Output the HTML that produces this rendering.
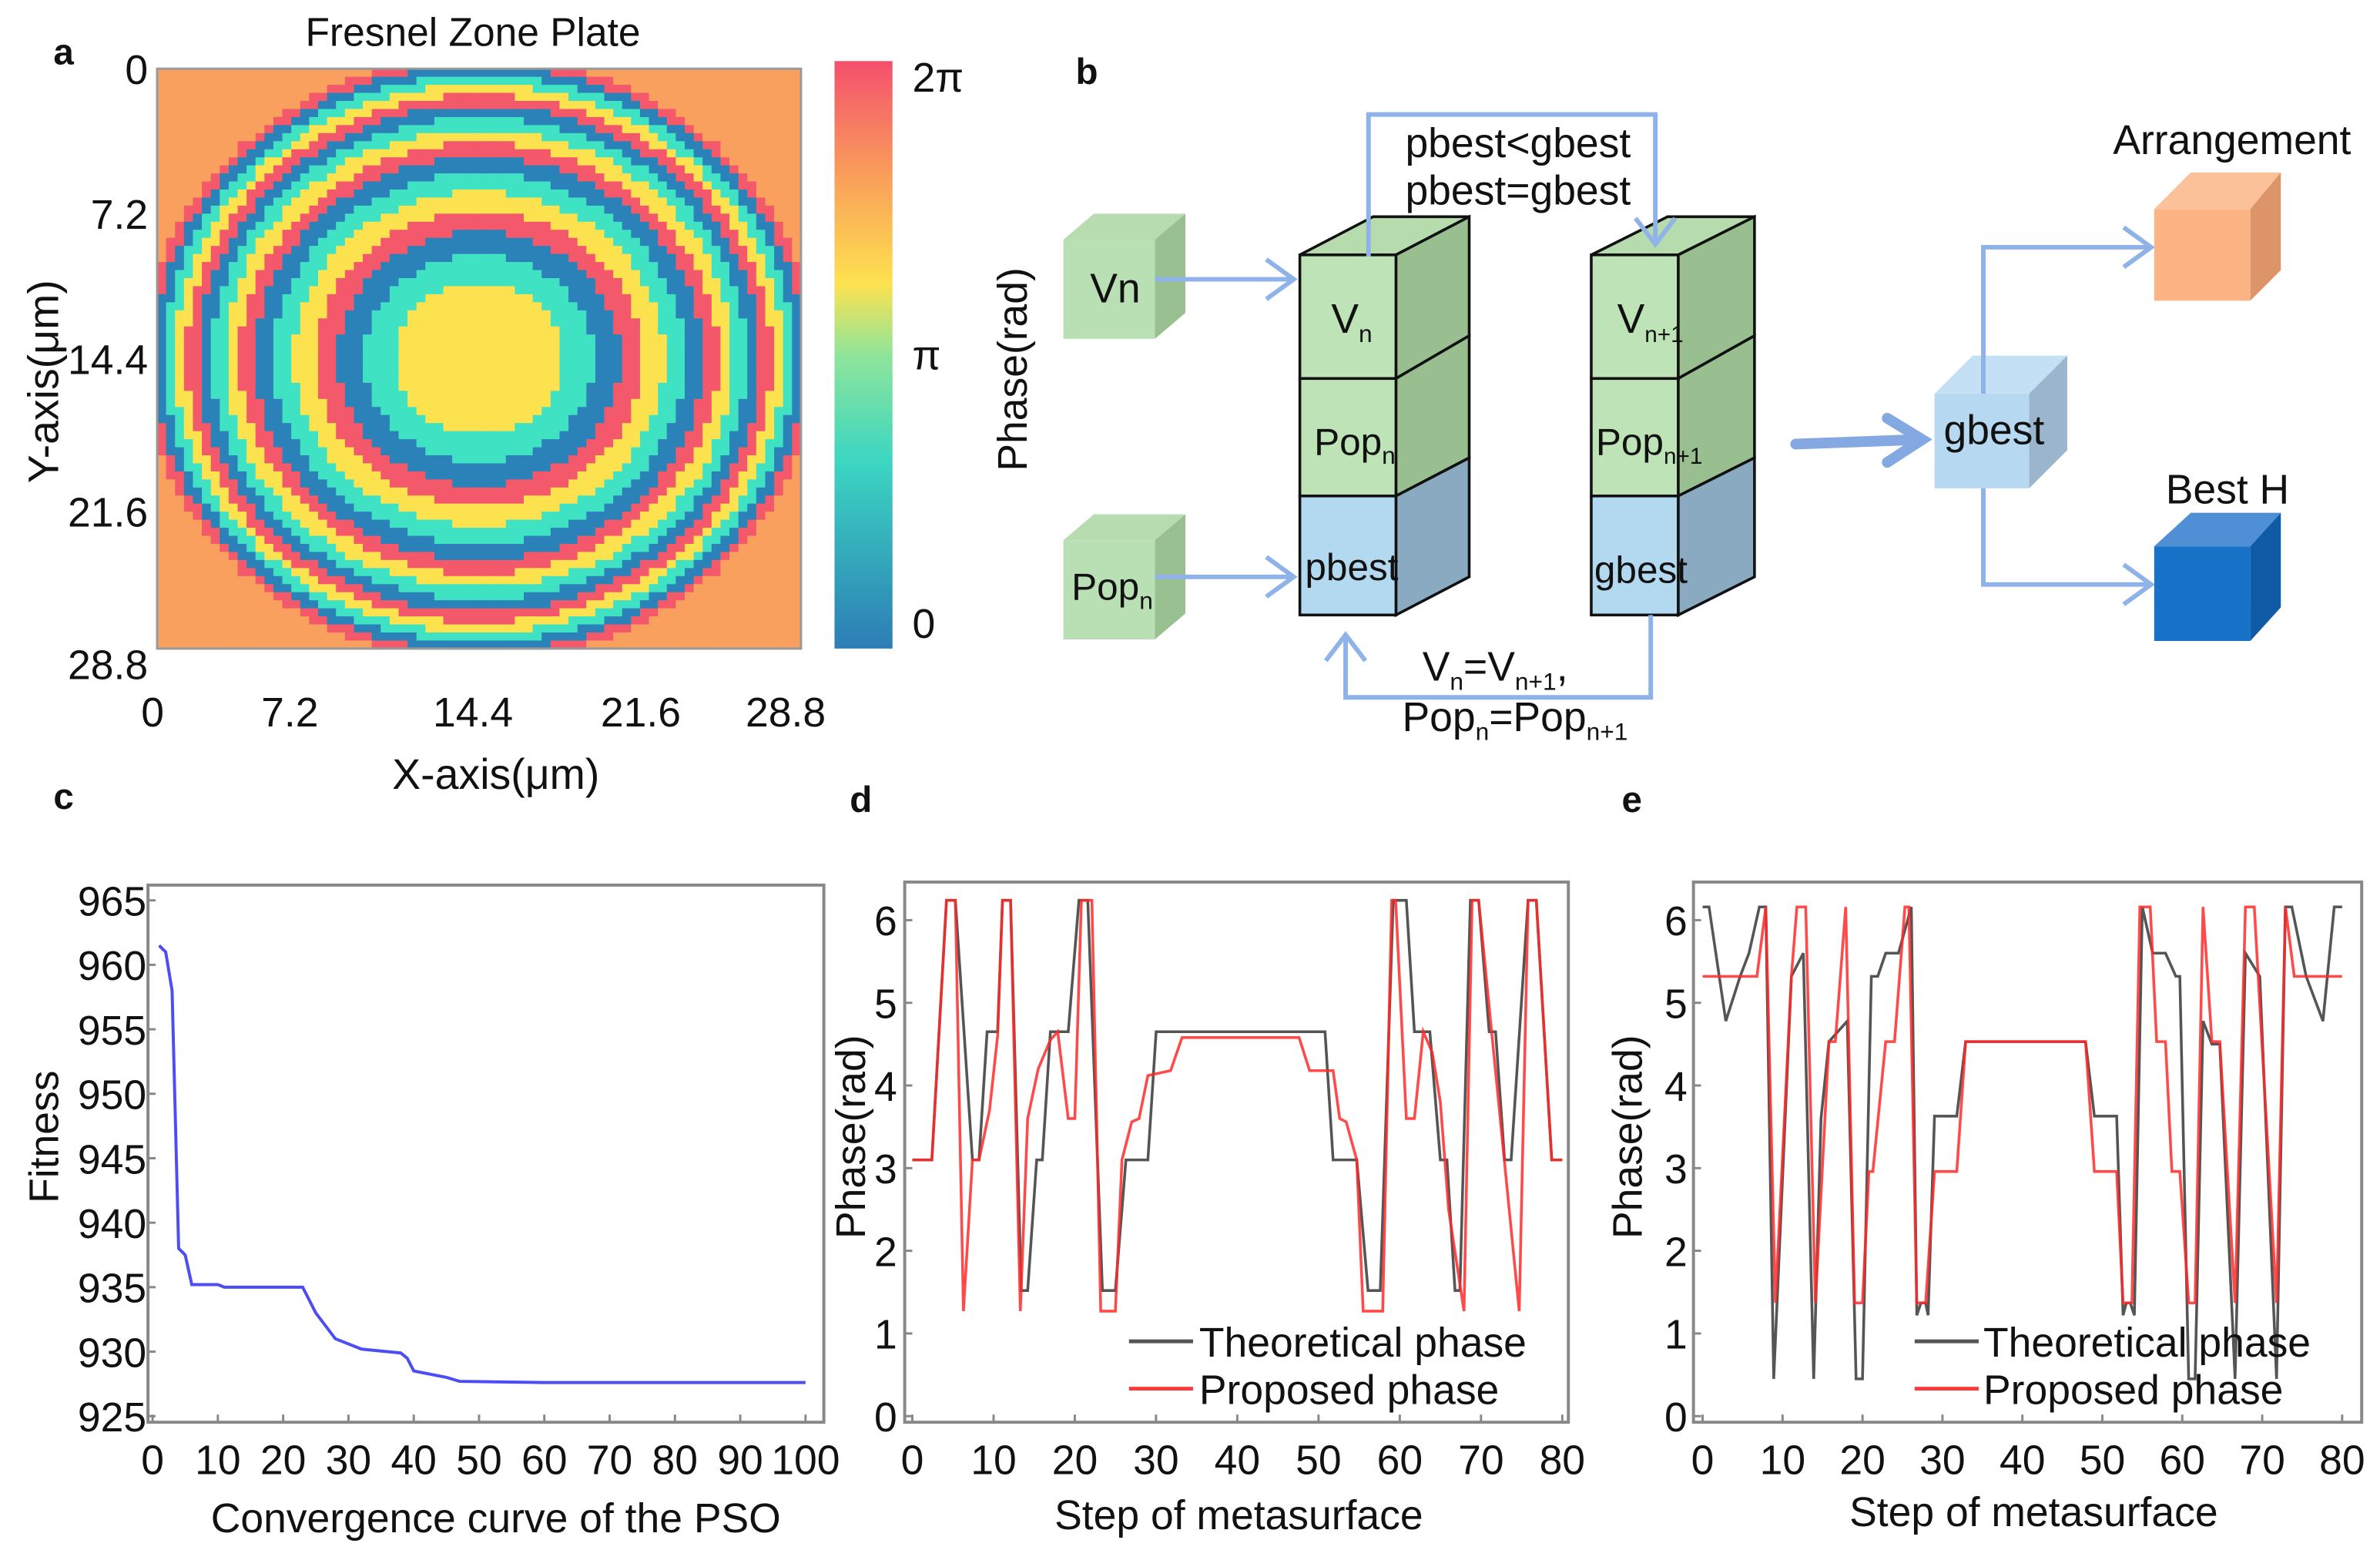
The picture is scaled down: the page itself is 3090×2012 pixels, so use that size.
<!DOCTYPE html>
<html><head><meta charset="utf-8">
<style>
html,body{margin:0;padding:0;background:#fff;}
svg{display:block;}
text{font-family:"Liberation Sans",sans-serif;fill:#111;}
</style></head>
<body>
<svg id="fig" xmlns="http://www.w3.org/2000/svg" width="3090" height="2012" viewBox="0 0 1560 1015.7">
<defs>
<linearGradient id="cbar" x1="0" y1="1" x2="0" y2="0">
<stop offset="0" stop-color="#2c7db5"/><stop offset="0.32" stop-color="#3cd6c2"/><stop offset="0.5" stop-color="#8fe59a"/><stop offset="0.62" stop-color="#fde24f"/><stop offset="0.8" stop-color="#f9a05a"/><stop offset="1" stop-color="#f4506d"/>
</linearGradient>
</defs>
<text x="35" y="42" font-size="24" font-weight="bold">a</text>
<text x="705" y="55" font-size="24" font-weight="bold">b</text>
<text x="35" y="530" font-size="24" font-weight="bold">c</text>
<text x="557" y="532" font-size="24" font-weight="bold">d</text>
<text x="1063" y="532" font-size="24" font-weight="bold">e</text>

<g id="panelA">
<text x="310" y="30" font-size="26" text-anchor="middle">Fresnel Zone Plate</text>
<g id="heat"></g>
<rect x="103" y="45" width="422" height="380" fill="none" stroke="#999" stroke-width="1.5"/>
<g font-size="27" text-anchor="end">
<text x="97" y="55">0</text><text x="97" y="150">7.2</text><text x="97" y="245">14.4</text><text x="97" y="345">21.6</text><text x="97" y="445">28.8</text>
</g>
<g font-size="27" text-anchor="middle">
<text x="100" y="476">0</text><text x="190" y="476">7.2</text><text x="310" y="476">14.4</text><text x="420" y="476">21.6</text><text x="515" y="476">28.8</text>
</g>
<text x="325" y="517" font-size="28" text-anchor="middle">X-axis(μm)</text>
<text transform="translate(38,250) rotate(-90)" font-size="28" text-anchor="middle">Y-axis(μm)</text>
<rect x="547" y="40" width="38" height="385" fill="url(#cbar)"/>
<g font-size="27">
<text x="598" y="60">2π</text><text x="598" y="242">π</text><text x="598" y="418">0</text>
</g>
</g>

<g id="panelB" font-size="25">
<text transform="translate(673,242) rotate(-90)" text-anchor="middle" font-size="27">Phase(rad)</text>
<g>
<polygon points="697,157 717,140 777,140 757,157" fill="#b7dcb0"/>
<polygon points="757,157 777,140 777,205 757,222" fill="#98c090"/>
<rect x="697" y="157" width="60" height="65" fill="#b9e0b4"/>
<text x="731" y="198" text-anchor="middle" font-size="27">Vn</text>
</g>
<g>
<polygon points="697,354 717,337 777,337 757,354" fill="#b7dcb0"/>
<polygon points="757,354 777,337 777,402 757,419" fill="#98c090"/>
<rect x="697" y="354" width="60" height="65" fill="#b9e0b4"/>
<text x="729" y="393" text-anchor="middle">Pop<tspan font-size="16" dy="6">n</tspan></text>
</g>
<g stroke="#8fb3e8" stroke-width="3" fill="none">
<path d="M757,183 L848,183 M830,170 L848,183 L830,196"/>
<path d="M757,378 L848,378 M830,365 L848,378 L830,391"/>
</g>
<g stroke="#111" stroke-width="1.8">
<polygon points="852,167 900,142 963,142 915,167" fill="#b6dcae"/>
<polygon points="915,167 963,142 963,220 915,248" fill="#99bf91"/>
<polygon points="915,248 963,220 963,300 915,325" fill="#99bf91"/>
<polygon points="915,325 963,300 963,378 915,403" fill="#8aaac2"/>
<rect x="852" y="167" width="63" height="81" fill="#bde3b6"/>
<rect x="852" y="248" width="63" height="77" fill="#bde3b6"/>
<rect x="852" y="325" width="63" height="78" fill="#b3d9f0"/>
</g>
<text x="886" y="218" text-anchor="middle" font-size="27">V<tspan font-size="16" dy="6">n</tspan></text>
<text x="888" y="298" text-anchor="middle">Pop<tspan font-size="16" dy="6">n</tspan></text>
<text x="886" y="380" text-anchor="middle">pbest</text>
<g stroke="#111" stroke-width="1.8">
<polygon points="1043,167 1093,142 1150,142 1100,167" fill="#b6dcae"/>
<polygon points="1100,167 1150,142 1150,220 1100,248" fill="#99bf91"/>
<polygon points="1100,248 1150,220 1150,300 1100,325" fill="#99bf91"/>
<polygon points="1100,325 1150,300 1150,378 1100,403" fill="#8aaac2"/>
<rect x="1043" y="167" width="57" height="81" fill="#bde3b6"/>
<rect x="1043" y="248" width="57" height="77" fill="#bde3b6"/>
<rect x="1043" y="325" width="57" height="78" fill="#b3d9f0"/>
</g>
<text x="1060" y="218" font-size="27">V<tspan font-size="15" dy="6">n+1</tspan></text>
<text x="1046" y="298">Pop<tspan font-size="15" dy="6">n+1</tspan></text>
<text x="1045" y="382">gbest</text>
<g stroke="#8fb3e8" stroke-width="3" fill="none">
<path d="M897,168 L897,75 L1085,75 L1085,160 M1072,143 L1085,160 L1098,143"/>
<path d="M1082,403 L1082,457 L882,457 L882,416 M869,433 L882,416 L895,433"/>
</g>
<text x="995" y="103" text-anchor="middle" font-size="27">pbest&lt;gbest</text>
<text x="995" y="134" text-anchor="middle" font-size="27">pbest=gbest</text>
<text x="980" y="446" text-anchor="middle" font-size="27">V<tspan font-size="16" dy="6">n</tspan><tspan dy="-6">=V</tspan><tspan font-size="16" dy="6">n+1</tspan><tspan dy="-6">,</tspan></text>
<text x="993" y="479" text-anchor="middle" font-size="27">Pop<tspan font-size="16" dy="6">n</tspan><tspan dy="-6">=Pop</tspan><tspan font-size="16" dy="6">n+1</tspan></text>
<path d="M1177,291 L1258,288 M1237,274 L1260,288 L1237,303" stroke="#84a9e2" stroke-width="7" fill="none" stroke-linecap="round"/>
<g>
<polygon points="1268,258 1293,233 1355,233 1330,258" fill="#c4e0f4"/>
<polygon points="1330,258 1355,233 1355,295 1330,320" fill="#9bb6cc"/>
<rect x="1268" y="258" width="62" height="62" fill="#b6d9f1"/>
<text x="1307" y="291" text-anchor="middle" font-size="27">gbest</text>
</g>
<g stroke="#8fb3e8" stroke-width="3" fill="none">
<path d="M1300,258 L1300,162 L1410,162 M1392,149 L1410,162 L1392,175"/>
<path d="M1300,320 L1300,383 L1410,383 M1392,370 L1410,383 L1392,396"/>
</g>
<g>
<polygon points="1412,137 1436,113 1495,113 1475,137" fill="#fbc29a"/>
<polygon points="1475,137 1495,113 1495,177 1475,197" fill="#dc9468"/>
<rect x="1412" y="137" width="63" height="60" fill="#fcb485"/>
</g>
<text x="1463" y="101" text-anchor="middle" font-size="27">Arrangement</text>
<g>
<polygon points="1412,358 1436,336 1495,336 1475,358" fill="#4f8fd6"/>
<polygon points="1475,358 1495,336 1495,398 1475,420" fill="#0f5ba6"/>
<rect x="1412" y="358" width="63" height="62" fill="#1772c8"/>
</g>
<text x="1460" y="330" text-anchor="middle" font-size="27">Best H</text>
</g>

<g id="panelC">
<rect x="97" y="580" width="443" height="352" fill="none" stroke="#888" stroke-width="2"/>
<g id="cTicks" font-size="27"></g>
<path id="cLine" fill="none" stroke="#4d4df5" stroke-width="2"/>
<text transform="translate(38,745) rotate(-90)" font-size="27" text-anchor="middle">Fitness</text>
<text x="325" y="1004" font-size="27" text-anchor="middle">Convergence curve of the PSO</text>
</g>

<g id="panelD">
<rect x="593" y="578" width="435" height="354" fill="none" stroke="#888" stroke-width="2"/>
<g id="dTicks" font-size="27"></g>
<path id="dTheo" fill="none" stroke="#555" stroke-width="1.8"/>
<path id="dProp" fill="none" stroke="#ff2a2a" stroke-opacity="0.85" stroke-width="1.8"/>
<text transform="translate(567,745) rotate(-90)" font-size="27" text-anchor="middle">Phase(rad)</text>
<text x="812" y="1002" font-size="27" text-anchor="middle">Step of metasurface</text>
<line x1="740" y1="879" x2="782" y2="879" stroke="#555" stroke-width="2.5"/>
<text x="786" y="889" font-size="27">Theoretical phase</text>
<line x1="740" y1="910" x2="782" y2="910" stroke="#ff3a3a" stroke-width="2.5"/>
<text x="786" y="920" font-size="27">Proposed phase</text>
</g>

<g id="panelE">
<rect x="1110" y="578" width="438" height="354" fill="none" stroke="#888" stroke-width="2"/>
<g id="eTicks" font-size="27"></g>
<path id="eTheo" fill="none" stroke="#555" stroke-width="1.8"/>
<path id="eProp" fill="none" stroke="#ff2a2a" stroke-opacity="0.85" stroke-width="1.8"/>
<text transform="translate(1076,745) rotate(-90)" font-size="27" text-anchor="middle">Phase(rad)</text>
<text x="1333" y="1000" font-size="27" text-anchor="middle">Step of metasurface</text>
<line x1="1255" y1="879" x2="1297" y2="879" stroke="#555" stroke-width="2.5"/>
<text x="1300" y="889" font-size="27">Theoretical phase</text>
<line x1="1255" y1="910" x2="1297" y2="910" stroke="#ff3a3a" stroke-width="2.5"/>
<text x="1300" y="920" font-size="27">Proposed phase</text>
</g>
</svg>
<script>
const ringRadii = [3.8,5.1,6.3,7.3,8.3,9.2,10.0,10.7,11.4,12.0,12.6,13.1,13.6,14.1,14.6,15.0];
const ringColors = ["#fde24f","#3fe3c3","#2b82b8","#f4586b"];
const outsideColor = "#f9a05e";
const plateSize = 28.8;
const gridN = 72;
const cIter = [1,2,3,4,5,6,10,11,23,25,28,32,38,39,40,45,47,60,100];
const cFit = [961.5,961,958,938,937.5,935.2,935.2,935,935,933,931,930.2,929.9,929.5,928.5,928,927.7,927.6,927.6];
const cYTicks = [925,930,935,940,945,950,955,960,965];
const cXTicks = [0,10,20,30,40,50,60,70,80,90,100];
const dTheoX = [0,2.4,4.2,5.3,7.4,8.2,9.2,10.5,11.1,12.1,13.4,14.2,15.3,16,17,19.2,20.5,21.6,23.4,25,26.3,29,30,50.8,51.8,54.7,56.1,57.6,59.2,60.8,61.8,63.7,65,65.8,66.8,67.4,68.7,69.7,71,71.8,72.9,73.7,75.8,76.8,78.7,80];
const dTheoY = [3.1,3.1,6.24,6.24,3.1,3.1,4.65,4.65,6.24,6.24,1.52,1.52,3.1,3.1,4.65,4.65,6.24,6.24,1.52,1.52,3.1,3.1,4.65,4.65,3.1,3.1,1.52,1.52,6.24,6.24,4.65,4.65,3.1,3.1,1.52,1.52,6.24,6.24,4.65,4.65,3.1,3.1,6.24,6.24,3.1,3.1];
const dPropX = [0,2.4,4.2,5.3,6.3,7.4,8.2,9.5,10.5,11.1,12.1,13.3,14.2,15.5,17,17.9,19.2,20,20.8,22.1,23.2,25,25.8,27,27.9,29,31.8,33.2,47.6,48.9,51.8,52.6,53.4,54.7,55.5,57.9,59,59.5,60.8,61.8,62.9,64,65,66,67.9,68.9,69.7,74.7,75.8,76.8,78.7,80];
const dPropY = [3.1,3.1,6.24,6.24,1.27,3.1,3.1,3.7,4.6,6.24,6.24,1.27,3.6,4.2,4.55,4.65,3.6,3.6,6.24,6.24,1.27,1.27,3.1,3.56,3.6,4.12,4.18,4.58,4.58,4.18,4.18,3.6,3.56,3.1,1.27,1.27,6.24,6.24,3.6,3.6,4.65,4.4,3.8,2.5,1.27,6.24,6.24,1.27,6.24,6.24,3.1,3.1];
const eTheoX = [0,0.8,2.9,4.7,5.8,7.1,7.9,8.9,11.1,12.6,13.9,14.8,15.8,18.1,19.2,20,21.1,21.9,22.9,24.5,26.1,26.8,27.3,27.9,28.2,29,31.8,32.9,47.9,49,51.8,52.6,53,53.5,54,55,56.3,57.9,59.2,59.7,60.8,61.6,62.6,63.7,64.7,66.6,67.9,69.7,71.8,72.9,73.7,75.5,77.6,79,80];
const eTheoY = [6.16,6.16,4.78,5.32,5.6,6.16,6.16,0.45,5.32,5.6,0.45,3.6,4.53,4.78,0.45,0.45,5.32,5.32,5.6,5.6,6.16,1.22,1.37,1.37,1.22,3.63,3.63,4.53,4.53,3.63,3.63,1.22,1.37,1.37,1.22,6.16,5.6,5.6,5.32,5.32,0.45,0.45,4.78,4.5,4.5,0.45,5.6,5.32,0.45,6.16,6.16,5.32,4.78,6.16,6.16];
const ePropX = [0,6.8,7.9,9.1,11.1,11.8,12.9,14.1,15.8,16.6,17.9,19,20,20.8,21.3,22.9,24,25.3,25.8,26.8,27.9,29,31.8,32.9,47.9,49,51.8,52.6,53.7,54.7,56,56.8,57.9,58.7,59.7,60.8,61.6,62.6,63.7,64.7,66.6,67.9,69,71.8,72.9,74,80];
const ePropY = [5.32,5.32,6.16,1.37,5.32,6.16,6.16,1.37,4.53,4.53,6.16,1.37,1.37,2.96,2.96,4.53,4.53,6.16,6.16,1.37,1.37,2.96,2.96,4.53,4.53,2.96,2.96,1.37,1.37,6.16,6.16,4.53,4.53,2.96,2.96,1.37,1.37,6.16,4.53,4.53,1.37,6.16,6.16,1.37,6.16,5.32,5.32];
const phaseYTicks = [0,1,2,3,4,5,6];
const stepXTicks = [0,10,20,30,40,50,60,70,80];

const NS = "http://www.w3.org/2000/svg";
function mk(tag, parent){ const el=document.createElementNS(NS,tag); parent.appendChild(el); return el; }

(function(){
  const g=document.getElementById('heat');
  const x0=103,y0=45,w=422,h=380, cw=w/gridN, ch=h/gridN;
  for(let i=0;i<gridN;i++){
    for(let j=0;j<gridN;j++){
      const ux=(j+0.5)*plateSize/gridN-plateSize/2, uy=(i+0.5)*plateSize/gridN-plateSize/2;
      const r=Math.sqrt(ux*ux+uy*uy);
      let k=ringRadii.findIndex(v=>r<=v);
      const col = k<0 ? outsideColor : ringColors[k%ringColors.length];
      const c=mk('rect',g);
      
      
      c.setAttribute('x',(x0+j*cw).toFixed(2)); c.setAttribute('y',(y0+i*ch).toFixed(2));
      c.setAttribute('width',(cw+0.6).toFixed(2)); c.setAttribute('height',(ch+0.6).toFixed(2));
      c.setAttribute('fill',col);
    }
  }
})();

function axes(gid, sx, sy, xt, yt, frameBottom, frameLeft, ylabX){
  const g=document.getElementById(gid);
  xt.forEach(v=>{
    const t=mk('text',g);
    
    
    t.setAttribute('x',sx(v)); t.setAttribute('y',frameBottom+34); t.setAttribute('text-anchor','middle'); t.textContent=v;
    const l=mk('line',g);
    
    
    l.setAttribute('x1',sx(v)); l.setAttribute('x2',sx(v)); l.setAttribute('y1',frameBottom); l.setAttribute('y2',frameBottom-5); l.setAttribute('stroke','#888'); l.setAttribute('stroke-width','1.5');
  });
  yt.forEach(v=>{
    const t=mk('text',g);
    
    
    t.setAttribute('x',ylabX); t.setAttribute('y',sy(v)+10); t.setAttribute('text-anchor','end'); t.textContent=v;
    const l=mk('line',g);
    
    
    l.setAttribute('x1',frameLeft); l.setAttribute('x2',frameLeft+5); l.setAttribute('y1',sy(v)); l.setAttribute('y2',sy(v)); l.setAttribute('stroke','#888'); l.setAttribute('stroke-width','1.5');
  });
}
function line(id, xs, ys, sx, sy){
  document.getElementById(id).setAttribute('d', xs.map((x,i)=>(i?'L':'M')+sx(x).toFixed(1)+','+sy(ys[i]).toFixed(1)).join(' '));
}
const cx=v=>100+v*4.28, cy=v=>928-(v-925)*8.45;
axes('cTicks',cx,cy,cXTicks,cYTicks,932,97,96);
line('cLine',cIter,cFit,cx,cy);
const dx=v=>598+v*5.325, dy=v=>928-v*54.17;
axes('dTicks',dx,dy,stepXTicks,phaseYTicks,932,593,588);
line('dTheo',dTheoX,dTheoY,dx,dy);
line('dProp',dPropX,dPropY,dx,dy);
const ex=v=>1116+v*5.24, ey=v=>928-v*54.17;
axes('eTicks',ex,ey,stepXTicks,phaseYTicks,932,1110,1106);
line('eTheo',eTheoX,eTheoY,ex,ey);
line('eProp',ePropX,ePropY,ex,ey);
</script>
</body></html>
